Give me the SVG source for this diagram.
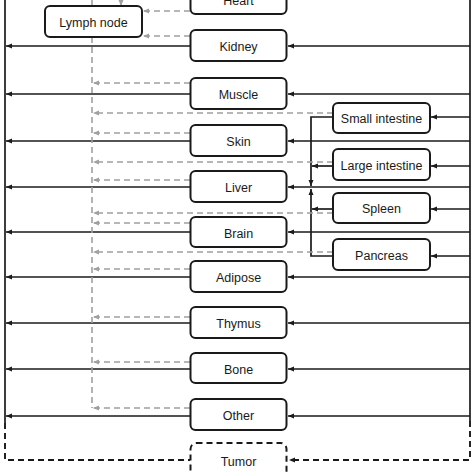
<svg xmlns="http://www.w3.org/2000/svg" width="474" height="474" viewBox="0 0 474 474">
<defs>
<style>
.box{fill:#fff;stroke:#1a1a1a;stroke-width:2}
.tbox{fill:#fff;stroke:#1a1a1a;stroke-width:2;stroke-dasharray:6,4}
.lbl{font-family:"Liberation Sans",Arial,sans-serif;font-size:12.5px;fill:#1a1a1a;text-anchor:middle}
.s{fill:none;stroke:#1a1a1a;stroke-width:1.7}
.d{fill:none;stroke:#1a1a1a;stroke-width:1.9;stroke-dasharray:6,4}
.g{fill:none;stroke:#a0a0a0;stroke-width:1.6;stroke-dasharray:6,4}
</style>
<marker id="ab" markerUnits="userSpaceOnUse" markerWidth="6" markerHeight="6" refX="6" refY="3" orient="auto"><path d="M0,0.5 L6,3 L0,5.5 z" fill="#1a1a1a"/></marker>
<marker id="ag" markerUnits="userSpaceOnUse" markerWidth="6" markerHeight="6" refX="6" refY="3" orient="auto"><path d="M0,0.5 L6,3 L0,5.5 z" fill="#a0a0a0"/></marker>
</defs>
<rect width="474" height="474" fill="#fff"/>
<g id="connectors">
<path class="s" d="M5,0 V423"/>
<path class="d" d="M5,423 V460 H190"/>
<path class="s" d="M470,0 V421"/>
<path class="d" d="M470,421 V460 H289" marker-end="url(#ab)"/>
<path class="s" d="M190,46 H6" marker-end="url(#ab)"/>
<path class="s" d="M190,94 H6" marker-end="url(#ab)"/>
<path class="s" d="M190,141 H6" marker-end="url(#ab)"/>
<path class="s" d="M190,187 H6" marker-end="url(#ab)"/>
<path class="s" d="M190,232 H6" marker-end="url(#ab)"/>
<path class="s" d="M190,277 H6" marker-end="url(#ab)"/>
<path class="s" d="M190,323 H6" marker-end="url(#ab)"/>
<path class="s" d="M190,369 H6" marker-end="url(#ab)"/>
<path class="s" d="M190,416 H6" marker-end="url(#ab)"/>
<path class="s" d="M470,46 H288" marker-end="url(#ab)"/>
<path class="s" d="M470,94 H288" marker-end="url(#ab)"/>
<path class="s" d="M470,141 H288" marker-end="url(#ab)"/>
<path class="s" d="M470,187 H288" marker-end="url(#ab)"/>
<path class="s" d="M470,232 H288" marker-end="url(#ab)"/>
<path class="s" d="M470,277 H288" marker-end="url(#ab)"/>
<path class="s" d="M470,323 H288" marker-end="url(#ab)"/>
<path class="s" d="M470,369 H288" marker-end="url(#ab)"/>
<path class="s" d="M470,416 H288" marker-end="url(#ab)"/>
<path class="s" d="M470,117 H431" marker-end="url(#ab)"/>
<path class="s" d="M470,166 H431" marker-end="url(#ab)"/>
<path class="s" d="M470,209 H431" marker-end="url(#ab)"/>
<path class="s" d="M470,256 H431" marker-end="url(#ab)"/>
<path class="s" d="M333,117 H311 V186" marker-end="url(#ab)"/>
<path class="s" d="M333,256 H311 V189" marker-end="url(#ab)"/>
<path class="s" d="M333,166 H312" marker-end="url(#ab)"/>
<path class="s" d="M333,209 H312" marker-end="url(#ab)"/>
<path class="g" d="M92,37 V408"/>
<path class="g" d="M92,0 V6"/>
<path class="g" d="M121,0 V6" marker-end="url(#ag)"/>
<path class="g" d="M190,11 H143" marker-end="url(#ag)"/>
<path class="g" d="M190,36 H143" marker-end="url(#ag)"/>
<path class="g" d="M190,83 H93" marker-end="url(#ag)"/>
<path class="g" d="M333,113 H93" marker-end="url(#ag)"/>
<path class="g" d="M190,133 H93" marker-end="url(#ag)"/>
<path class="g" d="M333,162 H93" marker-end="url(#ag)"/>
<path class="g" d="M190,180 H93" marker-end="url(#ag)"/>
<path class="g" d="M333,213 H93" marker-end="url(#ag)"/>
<path class="g" d="M190,223 H93" marker-end="url(#ag)"/>
<path class="g" d="M333,252 H93" marker-end="url(#ag)"/>
<path class="g" d="M190,269 H93" marker-end="url(#ag)"/>
<path class="g" d="M190,317 H93" marker-end="url(#ag)"/>
<path class="g" d="M190,362 H93" marker-end="url(#ag)"/>
<path class="g" d="M190,408 H93" marker-end="url(#ag)"/>
</g>
<g id="heart"><rect class="box" x="190.5" y="-17" width="96" height="31" rx="5"/><text class="lbl" x="238.5" y="5">Heart</text></g>
<g id="lymph-node"><rect class="box" x="45" y="6" width="97" height="31" rx="5"/><text class="lbl" x="93.5" y="27">Lymph node</text></g>
<g id="kidney"><rect class="box" x="190.5" y="30" width="96" height="31" rx="5"/><text class="lbl" x="238.5" y="51">Kidney</text></g>
<g id="muscle"><rect class="box" x="190.5" y="78" width="96" height="31" rx="5"/><text class="lbl" x="238.5" y="99">Muscle</text></g>
<g id="skin"><rect class="box" x="190.5" y="125" width="96" height="31" rx="5"/><text class="lbl" x="238.5" y="146">Skin</text></g>
<g id="liver"><rect class="box" x="190.5" y="171" width="96" height="31" rx="5"/><text class="lbl" x="238.5" y="192">Liver</text></g>
<g id="brain"><rect class="box" x="190.5" y="217" width="96" height="30" rx="5"/><text class="lbl" x="238.5" y="238">Brain</text></g>
<g id="adipose"><rect class="box" x="190.5" y="261" width="96" height="31" rx="5"/><text class="lbl" x="238.5" y="282">Adipose</text></g>
<g id="thymus"><rect class="box" x="190.5" y="307" width="96" height="31" rx="5"/><text class="lbl" x="238.5" y="328">Thymus</text></g>
<g id="bone"><rect class="box" x="190.5" y="353" width="96" height="30" rx="5"/><text class="lbl" x="238.5" y="374">Bone</text></g>
<g id="other"><rect class="box" x="190.5" y="399" width="96" height="31" rx="5"/><text class="lbl" x="238.5" y="420">Other</text></g>
<g id="tumor"><rect class="tbox" x="190.5" y="443" width="96" height="40" rx="6"/><text class="lbl" x="238.5" y="466">Tumor</text></g>
<g id="small-intestine"><rect class="box" x="333" y="103" width="97" height="30" rx="5"/><text class="lbl" x="381.5" y="123">Small intestine</text></g>
<g id="large-intestine"><rect class="box" x="333" y="149" width="97" height="31" rx="5"/><text class="lbl" x="381.5" y="170">Large intestine</text></g>
<g id="spleen"><rect class="box" x="333" y="193" width="97" height="30" rx="5"/><text class="lbl" x="381.5" y="213">Spleen</text></g>
<g id="pancreas"><rect class="box" x="333" y="239" width="97" height="31" rx="5"/><text class="lbl" x="381.5" y="260">Pancreas</text></g>
</svg>
